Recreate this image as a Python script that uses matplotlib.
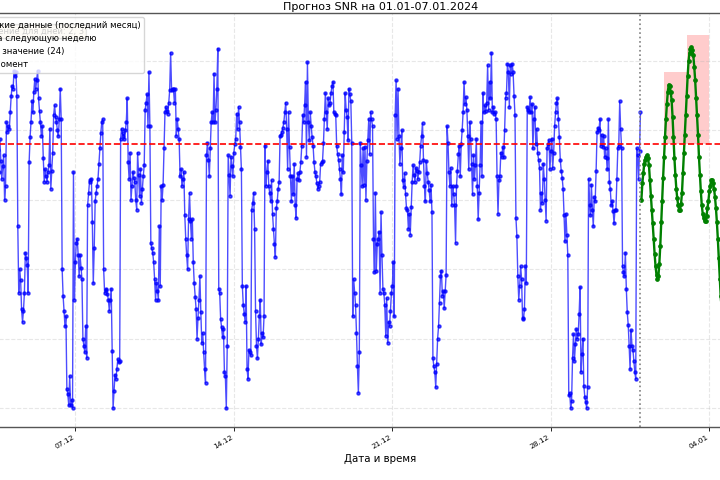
import matplotlib
matplotlib.use("Agg")
import matplotlib.pyplot as plt
import matplotlib.dates as mdates
import pandas as pd

plt.rcParams['font.family'] = ['DejaVu Sans']

# ---------------- data ----------------
hist_start = "2023-12-02 00:00"
hist_values = [
    21.8, 22.6, 23.4, 24.1, 25.0, 25.8, 26.4, 27.1, 26.2, 25.5,
    24.0, 19.2, 14.6, 11.3, 9.4, 8.1, 9.6, 11.8, 10.2, 13.5,
    20.1, 22.4, 23.8, 25.1, 26.6, 27.9, 28.4, 27.2, 26.0, 24.7,
    23.1, 21.9, 20.6, 21.7, 22.8, 21.2, 20.4, 22.9, 23.6, 22.0,
    24.4, 22.8, 21.5, 22.4, 23.2, 20.0, 21.0, 25.6, 24.9, 25.3,
    25.1, 26.3, 27.5, 28.2, 28.0, 29.3, 28.9, 29.2, 27.5, 18.1,
    13.3, 15.0, 14.2, 12.1, 11.2, 12.0, 13.3, 16.2, 15.8, 15.3,
    13.3, 22.7, 24.5, 25.6, 27.1, 26.3, 27.8, 28.7, 28.0, 28.6,
    29.3, 27.3, 26.4, 25.6, 24.6, 25.3, 23.0, 21.3, 22.2, 21.7,
    21.3, 22.0, 22.5, 25.1, 20.8, 22.1, 23.4, 26.1, 26.8, 26.0,
    25.6, 25.0, 24.6, 25.8, 28.0, 25.8, 15.0, 13.1, 12.0, 10.9,
    11.6, 6.4, 6.0, 5.2, 7.3, 5.2, 5.6, 5.0, 22.0, 12.8,
    15.5, 16.9, 17.2, 16.0, 14.5, 16.0, 15.1, 14.3, 10.0, 9.5,
    9.0, 10.9, 8.6, 19.6, 20.5, 21.3, 21.4, 21.5, 18.4, 14.0,
    16.5, 19.9, 20.5, 21.0, 21.5, 22.6, 23.7, 24.8, 25.6, 25.8,
    15.0, 13.3, 13.5, 13.6, 13.2, 12.8, 12.0, 12.8, 13.6, 9.1,
    5.0, 6.2, 7.4, 7.1, 7.8, 8.5, 8.3, 8.4, 24.4, 25.1,
    24.8, 24.6, 24.4, 25.0, 25.6, 27.3, 22.7, 21.5, 23.4, 20.0,
    21.0, 22.0, 21.6, 21.3, 20.0, 19.3, 23.4, 21.8, 20.3, 22.2,
    19.8, 20.8, 21.7, 22.5, 26.5, 27.0, 27.6, 25.3, 29.2, 25.3,
    16.9, 16.5, 16.2, 15.5, 14.3, 12.8, 14.0, 13.4, 12.8, 18.1,
    13.8, 21.0, 20.0, 21.1, 23.7, 26.3, 26.7, 26.4, 26.2, 27.0,
    27.9, 30.6, 27.9, 28.0, 28.0, 27.0, 28.0, 24.6, 25.8, 25.1,
    24.4, 21.7, 22.2, 21.0, 21.5, 22.0, 18.9, 17.2, 16.0, 15.0,
    18.6, 20.5, 18.5, 17.2, 18.6, 15.5, 14.0, 13.0, 12.1, 10.0,
    11.5, 12.8, 14.5, 11.9, 9.7, 10.4, 9.0, 7.8, 6.8, 23.2,
    24.1, 22.9, 21.7, 23.7, 25.6, 26.3, 25.6, 29.1, 25.6, 26.5,
    28.0, 30.9, 13.6, 13.3, 11.4, 10.8, 10.1, 10.7, 7.6, 7.3,
    5.0, 9.5, 23.2, 21.8, 20.3, 23.1, 22.4, 21.7, 23.4, 24.0,
    24.4, 26.2, 25.1, 26.7, 25.6, 23.8, 22.2, 13.8, 12.4, 11.8,
    11.2, 13.8, 7.8, 7.1, 9.2, 9.0, 8.8, 19.3, 19.8, 20.5,
    17.9, 12.0, 9.5, 8.6, 10.0, 11.6, 12.8, 9.6, 10.4, 10.1,
    11.6, 23.9, 21.0, 22.0, 22.8, 21.0, 20.5, 19.9, 21.4, 19.0,
    17.9, 16.8, 15.9, 19.4, 19.9, 20.8, 21.3, 24.6, 24.7, 24.9,
    25.2, 25.6, 26.3, 27.0, 25.1, 22.2, 26.3, 23.8, 21.7, 19.9,
    21.7, 20.4, 22.6, 19.6, 18.7, 21.5, 21.9, 21.4, 22.0, 22.7,
    23.9, 26.1, 25.6, 26.8, 28.5, 23.1, 29.9, 25.6, 24.3, 26.3,
    25.3, 24.5, 23.9, 22.7, 22.0, 21.7, 21.2, 20.8, 21.0, 21.3,
    22.6, 22.7, 22.8, 24.1, 25.8, 27.7, 26.3, 25.1, 27.3, 26.8,
    27.0, 27.7, 28.2, 28.5, 26.3, 26.2, 26.1, 23.9, 23.3, 22.9,
    22.2, 21.5, 20.4, 23.2, 22.0, 24.9, 27.7, 26.5, 26.0, 24.3,
    28.0, 27.6, 27.1, 24.1, 11.6, 14.3, 13.3, 12.4, 10.4, 8.0,
    6.1, 9.0, 24.1, 22.5, 21.0, 23.7, 21.1, 23.8, 20.0, 22.8,
    24.3, 25.8, 23.3, 26.3, 25.8, 25.3, 17.2, 14.8, 20.5, 14.9,
    16.8, 17.2, 17.7, 13.3, 19.1, 16.0, 13.6, 13.3, 12.4, 10.2,
    12.9, 9.7, 11.2, 10.9, 12.0, 13.3, 13.8, 15.5, 11.6, 26.1,
    28.6, 24.4, 28.0, 24.6, 22.6, 23.7, 25.0, 21.4, 20.9, 21.9,
    20.4, 19.4, 19.3, 17.9, 19.0, 17.5, 19.5, 21.3, 22.5, 21.8,
    21.3, 22.3, 22.1, 21.5, 22.0, 22.7, 23.9, 24.6, 25.5, 22.9,
    21.0, 19.9, 22.8, 21.9, 21.3, 20.7, 19.9, 21.1, 19.1, 8.6,
    8.0, 7.6, 6.5, 8.2, 10.0, 10.9, 12.6, 14.5, 14.9, 13.1,
    13.4, 12.2, 13.4, 14.6, 25.3, 24.1, 22.0, 21.0, 22.3, 19.6,
    21.0, 20.4, 19.6, 16.9, 21.0, 22.1, 23.3, 23.9, 21.7, 24.0,
    25.0, 26.3, 28.5, 26.9, 27.4, 26.5, 24.6, 22.2, 25.6, 24.4,
    22.6, 20.4, 23.2, 21.5, 22.5, 24.4, 21.0, 18.6, 20.5, 22.5,
    25.6, 21.7, 27.7, 26.3, 26.8, 26.4, 27.0, 29.7, 26.5, 28.5,
    27.3, 30.6, 26.3, 26.7, 26.2, 26.3, 25.8, 21.7, 19.0, 21.4,
    21.7, 23.4, 23.1, 23.8, 23.1, 25.0, 27.3, 27.7, 29.8, 29.2,
    26.7, 29.7, 29.1, 29.8, 29.2, 27.5, 26.1, 18.7, 17.4, 14.5,
    12.8, 13.8, 15.2, 14.3, 11.5, 11.4, 12.1, 15.2, 14.0, 26.7,
    26.5, 26.3, 27.4, 26.3, 26.9, 23.7, 25.8, 26.7, 24.0, 25.1,
    23.4, 22.9, 22.3, 19.3, 20.5, 19.8, 22.6, 21.5, 20.0, 18.5,
    23.7, 24.0, 24.3, 22.2, 23.5, 24.4, 22.3, 23.4, 25.3, 26.3,
    27.0, 27.3, 25.8, 24.5, 22.9, 22.1, 21.6, 20.8, 18.9, 17.0,
    19.0, 17.5, 16.0, 5.9, 6.1, 5.0, 5.5, 8.6, 10.3, 8.4,
    9.6, 10.7, 10.0, 10.3, 11.8, 13.7, 7.6, 8.9, 10.0, 6.6,
    5.8, 5.4, 5.0, 6.5, 21.5, 19.6, 18.9, 21.1, 19.3, 18.1,
    20.2, 19.9, 22.1, 24.9, 25.2, 25.0, 25.8, 23.9, 24.7, 23.8,
    24.6, 23.1, 23.7, 23.0, 22.2, 25.8, 21.3, 20.8, 19.6, 19.9,
    19.2, 18.3, 19.3, 19.3, 21.5, 23.7, 23.9, 27.1, 25.1, 23.7,
    15.2, 14.8, 14.5, 16.2, 13.6, 11.9, 11.0, 9.5, 7.8, 10.6,
    9.5, 9.2, 8.4, 7.6, 7.1, 23.7, 23.2, 21.5, 23.5, 26.3,
]

forecast_start = "2024-01-01 00:00"
forecast_values = [
    20.0, 21.2, 21.9, 22.6, 22.9, 23.1, 23.2, 23.0, 22.5, 21.4,
    20.3, 19.3, 18.3, 17.2, 16.1, 15.2, 14.6, 14.3, 14.5, 15.4,
    16.7, 18.4, 19.9, 21.6, 23.1, 24.5, 25.8, 26.9, 27.8, 28.3,
    28.2, 27.8, 27.2, 26.0, 24.5, 23.0, 21.8, 20.8, 20.1, 19.6,
    19.3, 19.3, 19.7, 20.5, 21.9, 23.4, 24.7, 26.1, 27.5, 28.9,
    30.0, 30.6, 30.9, 31.0, 30.8, 30.4, 29.6, 28.6, 27.3, 26.1,
    24.7, 23.1, 21.8, 20.6, 19.6, 19.0, 18.7, 18.5, 18.5, 18.8,
    19.4, 19.9, 20.6, 21.0, 21.4, 21.4, 21.2, 20.8, 20.2, 19.4,
    18.4, 17.2, 15.8, 14.3, 13.1, 12.2, 11.6, 11.5, 12.0, 13.1,
    14.6, 16.4, 18.2, 19.8, 21.0, 21.8, 22.1, 21.9, 21.3, 20.3,
    19.0, 17.7, 16.5, 15.6, 15.1, 15.0, 15.4, 16.3, 17.6, 19.1,
    20.6, 21.9, 22.8, 23.3, 23.4, 23.0, 22.2, 21.1, 19.8, 18.5,
    17.4, 16.6, 16.2, 16.3, 16.9, 17.9, 19.2, 20.6, 21.9, 22.9,
    23.5, 23.6, 23.2, 22.4, 21.2, 19.9, 18.6, 17.5, 16.8, 16.5,
    16.7, 17.4, 18.5, 19.8, 21.1, 22.2, 22.9, 23.2, 23.0, 22.4,
    21.4, 20.2, 18.9, 17.8, 17.0, 16.6, 16.6, 17.1, 18.0, 19.2,
    20.5, 21.6, 22.4, 22.8, 22.7, 22.1, 21.2, 20.1,
]

threshold = 24
current_moment = "2023-12-31 23:00"
exceed_days = ["2024-01-02", "2024-01-03"]
exceed_tops = [29.2, 31.9]
exceed_text = "Превышение для дней: 2, 3"

tick_dates = ["2023-12-07", "2023-12-14", "2023-12-21", "2023-12-28", "2024-01-04"]

title = "Прогноз SNR на 01.01-07.01.2024"
xlabel = "Дата и время"
label_hist = "Исторические данные (последний месяц)"
label_fc = "Прогноз на следующую неделю"
label_thr = f"Пороговое значение ({threshold})"
label_now = "Текущий момент"

# ---------------- plot ----------------
hist_times = pd.date_range(hist_start, periods=len(hist_values), freq="h")
fc_times = pd.date_range(forecast_start, periods=len(forecast_values), freq="h")

fig = plt.figure(figsize=(7.2, 4.8), dpi=100)
ax = fig.add_axes([-79.7 / 720, 53 / 480, 920.5 / 720, 414 / 480])

ax.plot(hist_times, hist_values, color="blue", marker="o", markersize=2.2,
        linewidth=1.0, alpha=0.7, label=label_hist)
ax.plot(fc_times, forecast_values, color="green", marker="o",
        markersize=2.4, linewidth=1.7, label=label_fc)
ax.axhline(threshold, color="red", linestyle="--", linewidth=1.2, label=label_thr)
ax.axvline(pd.Timestamp(current_moment), color="gray", linestyle=":",
           linewidth=1.2, label=label_now)

day_starts = pd.to_datetime(exceed_days)
heights = [t - threshold for t in exceed_tops]
ax.bar(day_starts, heights, bottom=threshold, width=1.0, align="edge",
       color="red", alpha=0.2, zorder=1)

ax.set_ylim(3.63, 33.46)
ax.margins(x=0.05)

ax.text(0.045, 0.966, exceed_text, transform=ax.transAxes, fontsize=6,
        va="top", ha="left",
        bbox=dict(boxstyle="round", facecolor="wheat", alpha=0.5))

ax.set_xticks(pd.to_datetime(tick_dates))
ax.xaxis.set_major_formatter(mdates.DateFormatter("%d.%m"))
for lbl in ax.get_xticklabels():
    lbl.set_rotation(30)
    lbl.set_ha("right")
ax.tick_params(axis="x", labelsize=5.4, length=3, width=0.6, pad=2)
ax.tick_params(axis="y", labelleft=False, length=3, width=0.6)

ax.grid(True, linestyle="--", alpha=0.3)
for sp in ax.spines.values():
    sp.set_color("#555555")
    sp.set_linewidth(1.0)

ax.set_xlabel(xlabel, fontsize=7.4, labelpad=3)
ax.set_title(title, fontsize=8, pad=2)
ax.legend(loc="upper left", fontsize=6.1)

fig.savefig("out.png", dpi=100)
